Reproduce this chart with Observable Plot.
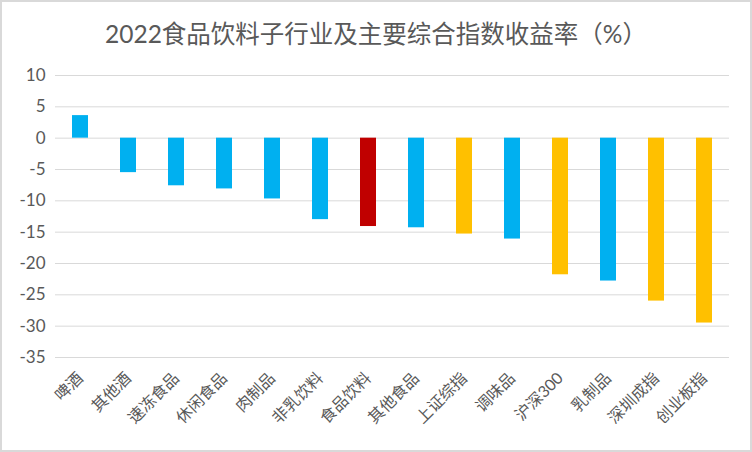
<!DOCTYPE html>
<html>
<head>
<meta charset="utf-8">
<script src="https://cdn.jsdelivr.net/npm/d3@7"></script>
<script src="https://cdn.jsdelivr.net/npm/@observablehq/plot@0.6"></script>
<style>
  html, body { margin: 0; padding: 0; background: #fff; }
  #wrap { position: relative; width: 752px; height: 452px; box-sizing: border-box; border: 2px solid #d9d9d9; background: #fff; overflow: hidden; }
  #title { position: absolute; left: 0; right: 0; top: 17px; text-align: center; font-family: "Lato", "Noto Sans CJK SC", sans-serif; font-size: 24.5px; color: #595959; line-height: 30px; }
  #chart { position: absolute; left: 0; top: 0; }
</style>
</head>
<body>
<div id="wrap">
  <div id="title">2022食品饮料子行业及主要综合指数收益率（%）</div>
  <div id="chart"></div>
</div>
<script>
const categories = ["啤酒","其他酒","速冻食品","休闲食品","肉制品","非乳饮料","食品饮料","其他食品","上证综指","调味品","沪深300","乳制品","深圳成指","创业板指"];
const values = [3.6, -5.5, -7.6, -8.1, -9.7, -13.0, -14.1, -14.3, -15.3, -16.1, -21.8, -22.8, -26.0, -29.5];
const groups = ["子行业","子行业","子行业","子行业","子行业","子行业","行业","子行业","指数","子行业","指数","子行业","指数","指数"];
const yTicks = [10, 5, 0, -5, -10, -15, -20, -25, -30, -35];
const groupNames = ["子行业","行业","指数"];
const groupColors = ["#00B0F0","#C00000","#FFC000"];

const data = categories.map((c, i) => ({category: c, value: values[i], group: groups[i]}));

const chart = Plot.plot({
  width: 748,
  height: 448,
  marginLeft: 53,
  marginRight: 21,
  marginTop: 73,
  marginBottom: 93,
  style: {fontFamily: '"Lato", "Noto Sans CJK SC", sans-serif', color: "#595959", background: "transparent"},
  x: {domain: categories, paddingInner: 0.667, paddingOuter: 0.333, label: null},
  y: {domain: [-35, 10], ticks: yTicks, label: null},
  color: {domain: groupNames, range: groupColors},
  marks: [
    Plot.gridY(yTicks, {stroke: "#d9d9d9", strokeOpacity: 1, strokeWidth: 1}),
    Plot.barY(data, {x: "category", y: "value", fill: "group"}),
    Plot.axisY(yTicks, {tickSize: 0, tickPadding: 10, fontSize: 17, fill: "#595959", tickFormat: d => String(d)}),
    Plot.axisX({tickSize: 0, tickRotate: -45, tickPadding: 18, fontSize: 16, fill: "#595959"})
  ]
});
document.getElementById("chart").appendChild(chart);
</script>
</body>
</html>
